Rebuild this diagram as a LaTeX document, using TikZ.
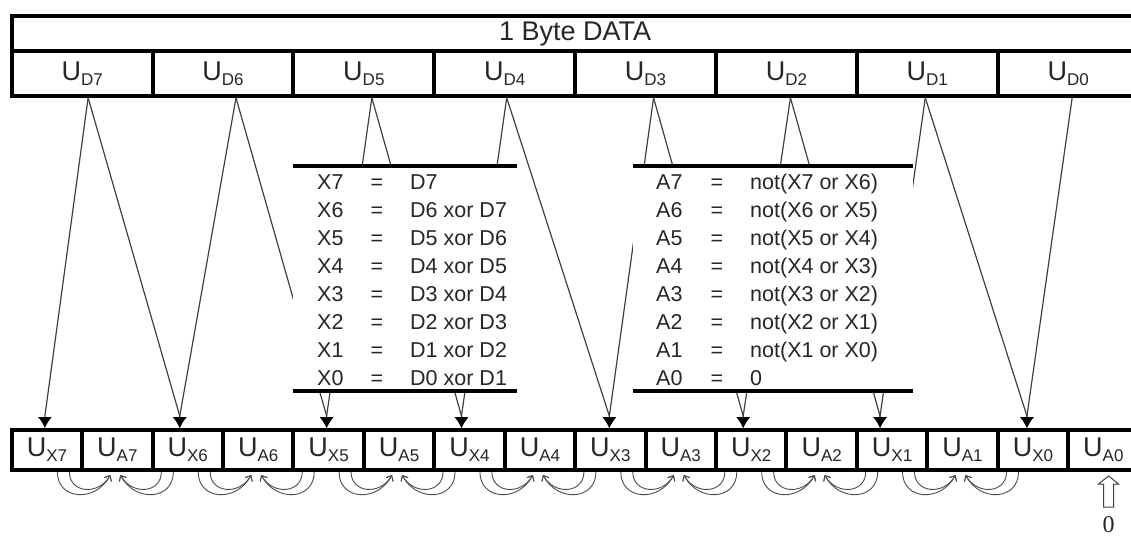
\documentclass[tikz,border=0pt]{standalone}
\usepackage{fontspec}
\setmainfont{Liberation Sans}
\newfontfamily\zerofont{Liberation Serif}
\usetikzlibrary{arrows.meta}

% U with a lowered index, as in the register boxes
\newcommand\reg[1]{U\raisebox{-5pt}{\fontsize{17}{18}\selectfont #1}}

\begin{document}
\begin{tikzpicture}[x=1pt, y=-1pt,
    box/.style={draw, line width=4pt, outer sep=0pt, text=black!85,
                font=\fontsize{27}{30}\selectfont},
    wide/.style={box, minimum width=140.86pt, minimum height=44.5pt},
    half/.style={box, minimum width=70.43pt, minimum height=40pt},
    feed/.style={line width=1.2pt, draw=black!75, -{Latex[length=11pt,width=14pt,black]}},
    curl/.style={line width=.9pt, draw=black!70, -{Straight Barb[length=4.5pt,width=8pt]}},
    cover/.style={fill=white, outer sep=0pt, minimum height=225pt},
    rule/.style={line width=3.5pt},
    eq/.style={text=black!85, font=\fontsize{21.5}{26}\selectfont, inner sep=0pt}]
\useasboundingbox (0,0) rectangle (1131,537);

\node[box, minimum width=1126.9pt, minimum height=35.5pt] (byte) at (575.15,33.55) {1 Byte DATA};
\foreach \i in {7,...,0}
  \node[wide] (d\i) at ({82.13+(7-\i)*140.86},73.55) {\reg{D\i}};
\foreach \i in {7,...,0} {
  \node[half] (x\i) at ({46.9+(7-\i)*140.86},450) {\reg{X\i}};
  \node[half] (a\i) at ({117.35+(7-\i)*140.86},450) {\reg{A\i}};
}

% where the lines leave the data bits and hit the X registers
\foreach \i/\dx in {7/6,6/13,5/8,4/2,3/8,2/4,1/-2,0/4}
  \coordinate (p\i) at ([xshift=\dx pt,yshift=-2pt]d\i.south);
\foreach \i/\dx in {7/-2,6/-8,5/-2,4/-8,3/-1,2/-8,1/-12,0/-6}
  \coordinate (t\i) at ([xshift=\dx pt,yshift=2pt]x\i.north);

\foreach \i/\j in {7/7,7/6,6/6,6/5,5/5,5/4,4/4,4/3,3/3,3/2,2/2,2/1,1/1,1/0,0/0}
  \draw[feed] (p\i) -- ([yshift=12pt]t\j) -- (t\j);

\node[cover, minimum width=224pt] (xset) at (405,278.5) {};
\node[cover, minimum width=280pt] (aset) at (773,278.5) {};
\foreach \b in {xset,aset}
  \draw[rule] (\b.north west) -- (\b.north east) (\b.south west) -- (\b.south east);

\foreach \i/\e [count=\r from 0] in {7/D7, 6/D6 xor D7, 5/D5 xor D6, 4/D4 xor D5,
    3/D3 xor D4, 2/D2 xor D3, 1/D1 xor D2, 0/D0 xor D1} {
  \node[eq, anchor=base west] (xn\i) at (317,{189.5+27.93*\r}) {X\i};
  \node[eq, anchor=base] (xq\i) at (377,{189.5+27.93*\r}) {=};
  \node[eq, anchor=base west] (xf\i) at (410,{189.5+27.93*\r}) {\e};
}
\foreach \i/\e [count=\r from 0] in {7/not(X7 or X6), 6/not(X6 or X5), 5/not(X5 or X4),
    4/not(X4 or X3), 3/not(X3 or X2), 2/not(X2 or X1), 1/not(X1 or X0), 0/0} {
  \node[eq, anchor=base west] (an\i) at (656,{189.5+27.93*\r}) {A\i};
  \node[eq, anchor=base] (aq\i) at (717,{189.5+27.93*\r}) {=};
  \node[eq, anchor=base west] (af\i) at (750,{189.5+27.93*\r}) {\e};
}

% X_i and X_(i-1) fed back into A_i
\foreach \i in {7,...,1}
  \foreach \dx/\tx/\c/\dp in {-60/-7/-15/28, -48/-7/-12/21, 56/3/15/28, 44/3/12/21}
    \draw[curl] ([xshift=\dx pt,yshift=-2pt]a\i.south) .. controls +(0,\dp) and +(\c,\dp) .. ([xshift=\tx pt,yshift=-5pt]a\i.south);

\node[inner sep=0pt, anchor=base, text=black!85, font=\zerofont\fontsize{24}{26}\selectfont] (zero) at (1108.5,532) {0};
\draw[line width=1pt, draw=black!75] (1103.5,507) -- (1103.5,484) -- (1098.5,484) -- (1108.5,476)
  -- (1118.5,484) -- (1113.5,484) -- (1113.5,507) -- cycle;
\end{tikzpicture}
\end{document}
